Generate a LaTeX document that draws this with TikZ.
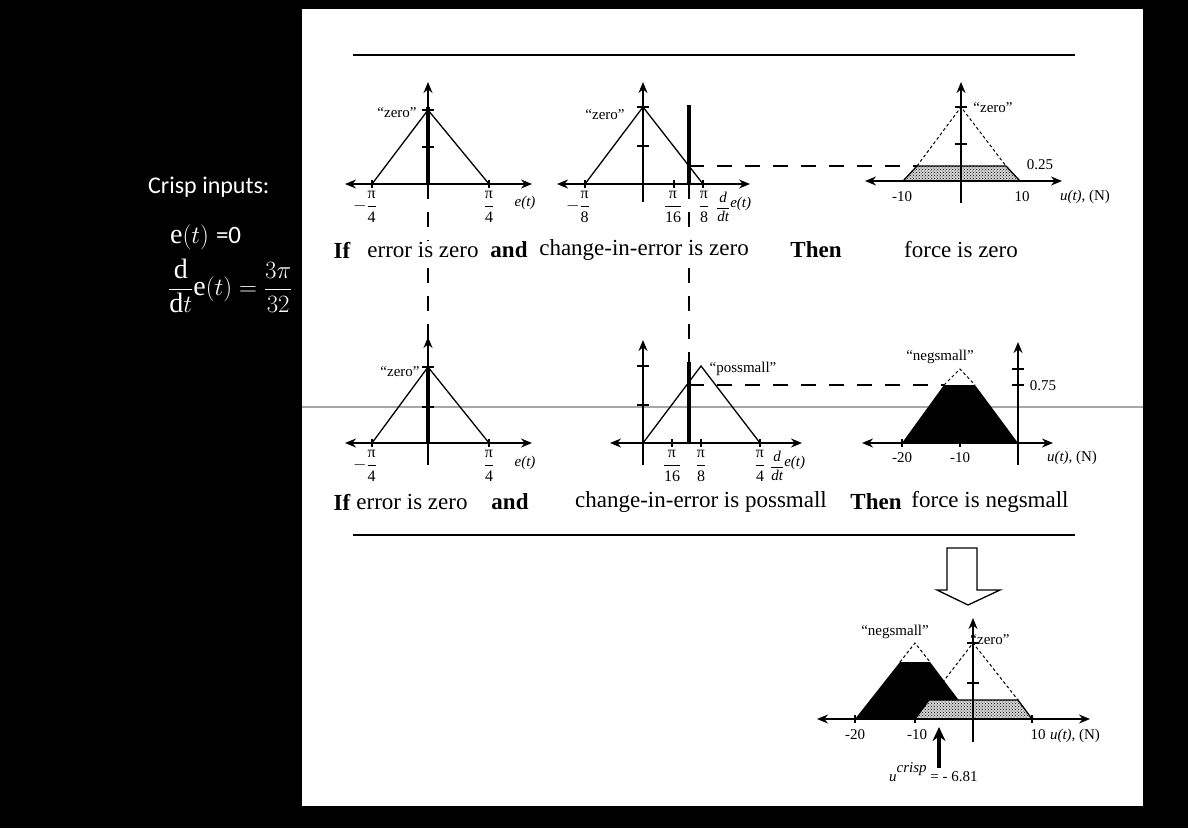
\documentclass[tikz,border=0pt]{standalone}
\usepackage{fontspec}
\setmainfont{Liberation Serif}
\newfontfamily\calib{Carlito}
\usetikzlibrary{arrows.meta,patterns}
\newcommand{\pf}[1]{$\displaystyle\frac{\mbox{π}}{\mbox{#1}}$}
\newcommand{\mpf}[1]{$\displaystyle-\frac{\mbox{π}}{\mbox{#1}}$}
\newcommand{\ddt}{$\displaystyle\frac{\mbox{\itshape d}}{\mbox{\itshape dt}}$\raisebox{5pt}{\itshape e(t)}}
\begin{document}
\begin{tikzpicture}[x=1pt,y=-1pt,
 axis/.style={line width=1.6pt},
 ax2/.style={axis,{Stealth[length=11pt,width=9pt]}-{Stealth[length=11pt,width=9pt]}},
 ax1/.style={axis,-{Stealth[length=11pt,width=9pt]}},
 mf/.style={line width=1.3pt,line join=miter},
 mfd/.style={line width=1pt,dash pattern=on 3pt off 2.5pt},
 tick/.style={line width=1.3pt},
 bar/.style={line width=4.5pt},
 conn/.style={line width=1.6pt,dash pattern=on 15pt off 13pt},
 lab/.style={font=\fontsize{15}{17}\selectfont,inner sep=0pt},
 flab/.style={font=\fontsize{16}{18}\selectfont,inner sep=0pt},
 rowtxt/.style={font=\fontsize{23}{25}\selectfont,inner sep=1pt,fill=white},
 wtxt/.style={text=white,anchor=west,inner sep=0pt,font=\fontsize{28}{32}\selectfont},
 dotfill/.style={preaction={fill=gray!32},pattern=crosshatch dots},
]
\useasboundingbox (0,0) rectangle (1188,828);
\fill[black] (0,0) rectangle (1188,828);
\fill[white] (302,9) rectangle (1143,806);
\draw[gray!70,line width=1.1pt] (302,407) -- (1143,407);
% rules
\draw[line width=1.5pt] (353,55) -- (1075,55);
\draw[line width=1.5pt] (353,535) -- (1075,535);

% ---------- left text
\node[wtxt,font=\calib\fontsize{24}{28}\selectfont] (ci) at (148,187) {Crisp inputs:};
\node[wtxt] (ein) at (170,237) {$\mathrm{e}(t)$ {\calib\fontsize{25}{28}\selectfont =0}};
\node[wtxt] (dein) at (168,286) {$\displaystyle\frac{\mathrm{d}}{\mathrm{d}t}\mathrm{e}(t)=\frac{3\pi}{32}$};

% ---------- panel 1
\coordinate (b1b) at (428,184); \coordinate (b1t) at (428,107);
\draw[mf] (372,184) -- (428,110) -- (489,184);
\draw[tick] (422,110) -- (434,110) (422,147) -- (434,147) (372,180) -- (372,188) (489,180) -- (489,188);
\draw[ax2] (345,184) -- (532,184);
\draw[ax1] (428,196) -- (428,82);
\draw[bar] (b1b) -- (b1t);
\node[lab] (z1) at (397,113) {“zero”};
\node[flab] (f1a) at (365,207) {\mpf{4}};
\node[flab] (f1b) at (489,207) {\pf{4}};
\node[lab] (e1) at (525,203) {\itshape e(t)};

% ---------- panel 2
\coordinate (b2b) at (689,184); \coordinate (b2t) at (689,105); \coordinate (h1s) at (689,166);
\draw[mf] (585,184) -- (643,107) -- (703,184);
\draw[tick] (637,107) -- (649,107) (637,146) -- (649,146) (585,180) -- (585,188) (674,180) -- (674,188) (703,180) -- (703,188);
\draw[ax2] (557,184) -- (750,184);
\draw[ax1] (643,202) -- (643,82);
\draw[bar] (b2b) -- (b2t);
\node[lab] (z2) at (605,115) {“zero”};
\node[flab] (f2a) at (578,207) {\mpf{8}};
\node[flab] (f2b) at (673,207) {\pf{16}};
\node[flab] (f2c) at (704,207) {\pf{8}};
\node[lab,anchor=west] (d2) at (716,207) {\ddt};

% ---------- panel 3
\coordinate (t3a) at (903,181); \coordinate (t3b) at (917,166);
\coordinate (t3c) at (1006,166); \coordinate (t3d) at (1020,181);
\draw[mfd] (t3b) -- (961,107) -- (t3c);
\draw[mf,dotfill] (t3a) -- (t3b) -- (t3c) -- (t3d) -- cycle;
\draw[tick] (955,107) -- (967,107) (955,144) -- (967,144);
\draw[ax2] (865,181) -- (1062,181);
\draw[ax1] (961,203) -- (961,82);
\node[lab] (z3) at (993,108) {“zero”};
\node[lab] (v3) at (1040,165) {0.25};
\node[lab] (m3a) at (902,197) {-10};
\node[lab] (m3b) at (1022,197) {10};
\node[lab] (u3) at (1085,197) {\itshape u(t)\upshape, (N)};
\draw[conn] (h1s) -- (t3b);

% ---------- panel 4
\coordinate (b4b) at (428,443); \coordinate (b4t) at (428,367);
\draw[mf] (372,443) -- (428,367) -- (489,443);
\draw[tick] (422,367) -- (434,367) (422,407) -- (434,407) (372,439) -- (372,447) (489,439) -- (489,447);
\draw[ax2] (345,443) -- (532,443);
\draw[ax1] (428,465) -- (428,337);
\draw[bar] (b4b) -- (b4t);
\node[lab] (z4) at (400,372) {“zero”};
\node[flab] (f4a) at (365,466) {\mpf{4}};
\node[flab] (f4b) at (489,466) {\pf{4}};
\node[lab] (e4) at (525,463) {\itshape e(t)};

% ---------- panel 5
\coordinate (b5b) at (689,443); \coordinate (b5t) at (689,362); \coordinate (h2s) at (689,385);
\draw[mf] (643,443) -- (701,366) -- (760,443);
\draw[tick] (637,366) -- (649,366) (637,405) -- (649,405) (672,439) -- (672,447) (701,439) -- (701,447) (760,439) -- (760,447);
\draw[ax2] (610,443) -- (802,443);
\draw[ax1] (643,465) -- (643,340);
\draw[bar] (b5b) -- (b5t);
\node[lab] (z5) at (743,369) {“possmall”};
\node[flab] (f5a) at (672,466) {\pf{16}};
\node[flab] (f5b) at (701,466) {\pf{8}};
\node[flab] (f5c) at (760,466) {\pf{4}};
\node[lab,anchor=west] (d5) at (770,466) {\ddt};

% ---------- panel 6
\coordinate (t6a) at (902,443); \coordinate (t6b) at (944,385);
\coordinate (t6c) at (975,385); \coordinate (t6d) at (1018,443);
\draw[mfd] (t6b) -- (960,369) -- (t6c);
\fill[black] (t6a) -- (t6b) -- (t6c) -- (t6d) -- cycle;
\draw[tick] (1012,369) -- (1024,369) (1012,385) -- (1024,385) (902,439) -- (902,447) (960,439) -- (960,447);
\draw[ax2] (862,443) -- (1053,443);
\draw[ax1] (1018,465) -- (1018,342);
\node[lab] (z6) at (940,357) {“negsmall”};
\node[lab] (v6) at (1043,386) {0.75};
\node[lab] (m6a) at (902,458) {-20};
\node[lab] (m6b) at (960,458) {-10};
\node[lab] (u6) at (1072,458) {\itshape u(t)\upshape, (N)};
\draw[conn] (h2s) -- (t6b);

% ---------- vertical connectors
\draw[conn] (b1b) -- (b4t);
\draw[conn] (b2b) -- (b5t);

% ---------- rule texts row 1
\node[rowtxt] (r1a) at (342,250) {\bfseries If};
\node[rowtxt] (r1b) at (423,250) {error is zero};
\node[rowtxt] (r1c) at (509,250) {\bfseries and};
\node[rowtxt] (r1d) at (644,250) {change-in-error is zero};
\node[rowtxt] (r1e) at (816,250) {\bfseries Then};
\node[rowtxt] (r1f) at (961,250) {force is zero};
% row 2
\node[rowtxt] (r2a) at (342,502) {\bfseries If};
\node[rowtxt] (r2b) at (412,502) {error is zero};
\node[rowtxt] (r2c) at (510,502) {\bfseries and};
\node[rowtxt] (r2d) at (701,502) {change-in-error is possmall};
\node[rowtxt] (r2e) at (876,502) {\bfseries Then};
\node[rowtxt] (r2f) at (990,502) {force is negsmall};

% ---------- hollow arrow
\draw[line width=1.3pt,fill=white] (947,548) -- (977,548) -- (977,590) -- (1000,590) -- (968,605) -- (937,590) -- (947,590) -- cycle;

% ---------- panel 7
\draw[mfd] (900,662) -- (915,643) -- (930,662);
\draw[mfd] (929,700) -- (973,643) -- (1018,700);
\fill[black] (855,719) -- (900,662) -- (930,662) -- (973,719) -- cycle;
\draw[mf,dotfill] (915,719) -- (929,700) -- (1018,700) -- (1032,719) -- cycle;
\draw[tick] (967,643) -- (979,643) (967,683) -- (979,683) (855,715) -- (855,723) (915,715) -- (915,723) (1032,715) -- (1032,723);
\draw[ax2] (817,719) -- (1090,719);
\draw[ax1] (973,742) -- (973,618);
\node[lab] (z7a) at (895,632) {“negsmall”};
\node[lab] (z7b) at (990,640) {“zero”};
\node[lab] (m7a) at (855,735) {-20};
\node[lab] (m7b) at (917,735) {-10};
\node[lab] (m7c) at (1038,735) {10};
\node[lab] (u7) at (1075,736) {\itshape u(t)\upshape, (N)};
\coordinate (cs) at (939,768); \coordinate (ce) at (939,727);
\draw[line width=4pt,-{Stealth[length=14pt,width=13pt]}] (cs) -- (ce);
\node[lab,anchor=base west] (uc) at (889,781) {\itshape u\raisebox{9pt}{crisp}\upshape\ = - 6.81};
\end{tikzpicture}
\end{document}
